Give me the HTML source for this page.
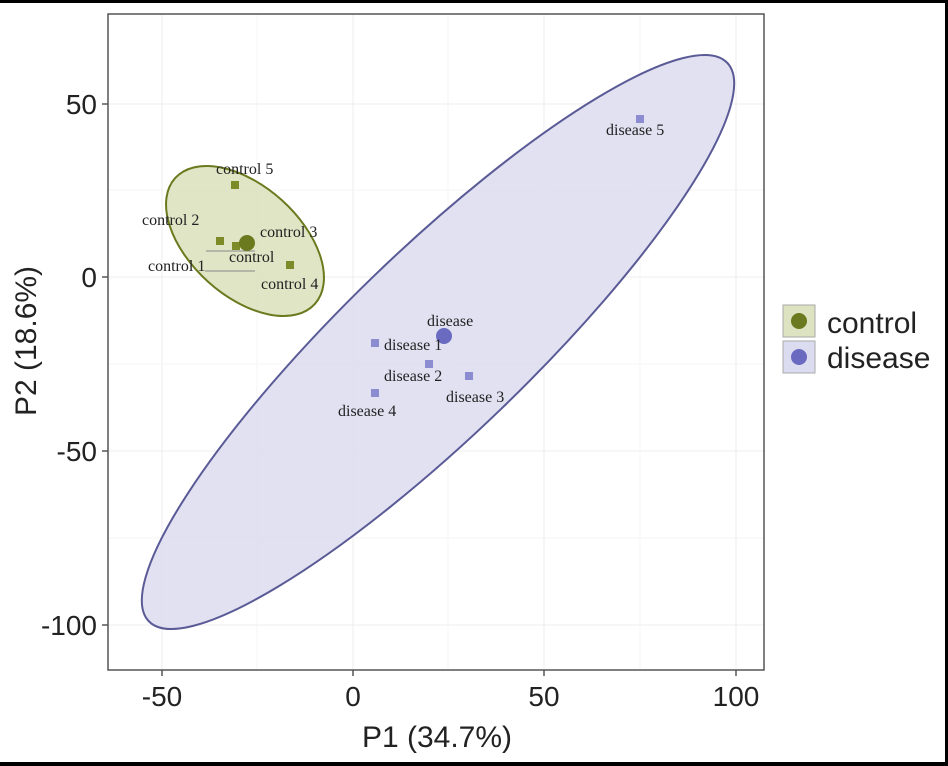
<!DOCTYPE html>
<html><head><style>body{margin:0;background:#fff}svg{display:block}</style></head><body>
<svg width="948" height="766" viewBox="0 0 948 766" xmlns="http://www.w3.org/2000/svg">
<rect width="948" height="766" fill="#fff"/>
<g stroke="#ececec" stroke-width="1">
<line x1="162" y1="14" x2="162" y2="670"/><line x1="353" y1="14" x2="353" y2="670"/><line x1="544" y1="14" x2="544" y2="670"/><line x1="736" y1="14" x2="736" y2="670"/>
<line x1="108" y1="104" x2="764" y2="104"/><line x1="108" y1="277" x2="764" y2="277"/><line x1="108" y1="451" x2="764" y2="451"/><line x1="108" y1="625" x2="764" y2="625"/>
</g>
<g stroke="#f5f5f5" stroke-width="1">
<line x1="257" y1="14" x2="257" y2="670"/><line x1="448" y1="14" x2="448" y2="670"/><line x1="640" y1="14" x2="640" y2="670"/>
<line x1="108" y1="190" x2="764" y2="190"/><line x1="108" y1="364" x2="764" y2="364"/><line x1="108" y1="538" x2="764" y2="538"/>
</g>
<ellipse cx="438" cy="342" rx="402" ry="92" transform="rotate(-44 438 342)" fill="#dcdcf0" fill-opacity="0.85" stroke="#5a5a96" stroke-width="2"/>
<ellipse cx="245" cy="241" rx="94" ry="55" transform="rotate(42 245 241)" fill="#dde2c0" fill-opacity="0.9" stroke="#6b7a1e" stroke-width="2"/>
<rect x="108" y="14" width="656" height="656" fill="none" stroke="#555" stroke-width="1.5"/>
<g stroke="#888" stroke-width="1"><line x1="206" y1="251" x2="255" y2="251"/><line x1="205" y1="271" x2="255" y2="271"/></g>
<g fill="#7d8a28">
<rect x="231" y="181" width="8" height="8"/><rect x="216" y="237" width="8" height="8"/><rect x="232" y="242" width="8" height="8"/><rect x="286" y="261" width="8" height="8"/>
<circle cx="247" cy="243" r="8" fill="#6b7a1e"/>
</g>
<g fill="#8c8cd0">
<rect x="371" y="339" width="8" height="8"/><rect x="425" y="360" width="8" height="8"/><rect x="465" y="372" width="8" height="8"/><rect x="371" y="389" width="8" height="8"/><rect x="636" y="115" width="8" height="8"/>
<circle cx="444" cy="336" r="8" fill="#6a6ac0"/>
</g>
<g font-family="Liberation Serif, serif" font-size="16" fill="#222">
<text x="216" y="174">control 5</text><text x="142" y="225">control 2</text><text x="260" y="237">control 3</text>
<text x="229" y="262">control</text><text x="148" y="271">control 1</text><text x="261" y="289">control 4</text>
<text x="427" y="326">disease</text><text x="384" y="350">disease 1</text><text x="384" y="381">disease 2</text>
<text x="446" y="402">disease 3</text><text x="338" y="416">disease 4</text><text x="606" y="135">disease 5</text>
</g>
<g stroke="#555" stroke-width="1.5">
<line x1="162" y1="670" x2="162" y2="676"/><line x1="353" y1="670" x2="353" y2="676"/><line x1="544" y1="670" x2="544" y2="676"/><line x1="736" y1="670" x2="736" y2="676"/>
<line x1="102" y1="104" x2="108" y2="104"/><line x1="102" y1="277" x2="108" y2="277"/><line x1="102" y1="451" x2="108" y2="451"/><line x1="102" y1="625" x2="108" y2="625"/>
</g>
<g font-family="Liberation Sans, sans-serif" font-size="28" fill="#222">
<text x="162" y="706" text-anchor="middle">-50</text><text x="353" y="706" text-anchor="middle">0</text><text x="544" y="706" text-anchor="middle">50</text><text x="736" y="706" text-anchor="middle">100</text>
<text x="97" y="114" text-anchor="end">50</text><text x="97" y="287" text-anchor="end">0</text><text x="97" y="461" text-anchor="end">-50</text><text x="97" y="635" text-anchor="end">-100</text>
<text x="437" y="747" text-anchor="middle" font-size="30">P1 (34.7%)</text>
<text transform="translate(36 341) rotate(-90)" text-anchor="middle" font-size="30">P2 (18.6%)</text>
<text x="827" y="333" font-size="30">control</text><text x="827" y="368" font-size="30">disease</text>
</g>
<rect x="783" y="305" width="32" height="32" fill="#dde2c0" stroke="#aaa"/><circle cx="799" cy="321" r="8" fill="#6b7a1e"/>
<rect x="783" y="341" width="32" height="32" fill="#dcdcf0" stroke="#aaa"/><circle cx="799" cy="357" r="8" fill="#6a6ac0"/>
<rect x="0" y="0" width="948" height="3" fill="#000"/><rect x="945" y="0" width="3" height="766" fill="#000"/><rect x="0" y="762" width="948" height="4" fill="#000"/>
</svg>
</body></html>
